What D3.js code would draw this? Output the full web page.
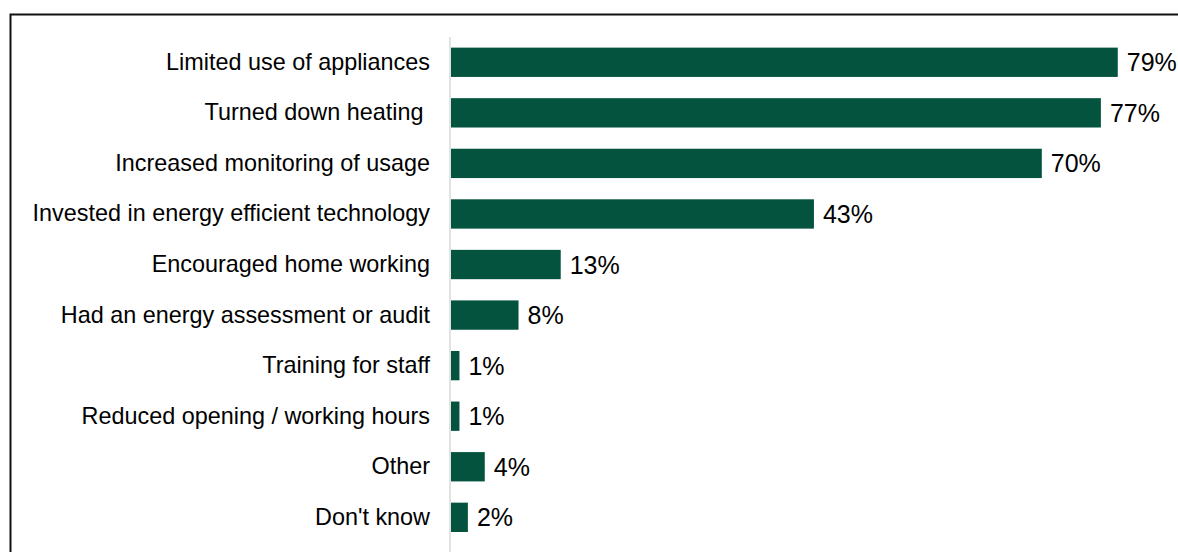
<!DOCTYPE html>
<html>
<head>
<meta charset="utf-8">
<script src="https://cdn.jsdelivr.net/npm/d3@7"></script>
<style>
  html, body { margin: 0; padding: 0; background: #fff; }
  svg { display: block; }
  svg text { white-space: pre; }
</style>
</head>
<body>
<div id="chart"></div>
<script>
// Energy-saving actions taken, share of respondents (%)
const categories = [
  "Limited use of appliances",
  "Turned down heating ",
  "Increased monitoring of usage",
  "Invested in energy efficient technology",
  "Encouraged home working",
  "Had an energy assessment or audit",
  "Training for staff",
  "Reduced opening / working hours",
  "Other",
  "Don't know"
];
const values = [79, 77, 70, 43, 13, 8, 1, 1, 4, 2];

const W = 1178, H = 552;
const svg = d3.select("#chart").append("svg")
  .attr("width", W).attr("height", H);

// frame around the chart
svg.append("rect")
  .attr("x", 10.5).attr("y", 14.5)
  .attr("width", W + 20).attr("height", H + 20)
  .attr("fill", "none").attr("stroke", "#111").attr("stroke-width", 2);

const x0 = 451;
const x = d3.scaleLinear().domain([0, 100]).range([x0, x0 + 844]);
const y = d3.scaleBand().domain(categories)
  .range([37, 37 + 50.56 * 10]).paddingInner(0.42).paddingOuter(0.21);

// category axis line
svg.append("line")
  .attr("x1", x0 - 1).attr("x2", x0 - 1)
  .attr("y1", 37).attr("y2", H)
  .attr("stroke", "#d9d9d9").attr("stroke-width", 1.5);

const yAxis = d3.axisLeft(y).tickSize(0).tickPadding(21);
const gy = svg.append("g").attr("transform", `translate(${x0},0)`).call(yAxis);
gy.select(".domain").remove();
gy.selectAll("text")
  .attr("font-family", "Liberation Sans, Arial, sans-serif")
  .attr("font-size", 23.4).attr("fill", "#000");

const rows = svg.append("g").selectAll("g")
  .data(categories.map((c, i) => ({ c, v: values[i] })))
  .join("g");

rows.append("rect")
  .attr("x", x(0))
  .attr("y", d => y(d.c))
  .attr("width", d => x(d.v) - x(0))
  .attr("height", y.bandwidth())
  .attr("fill", "#03533f");

rows.append("text")
  .attr("x", d => x(d.v) + 9)
  .attr("y", d => y(d.c) + y.bandwidth() / 2)
  .attr("dy", "0.36em")
  .attr("font-family", "Liberation Sans, Arial, sans-serif")
  .attr("font-size", 25).attr("fill", "#000")
  .text(d => d.v + "%");
</script>
</body>
</html>
